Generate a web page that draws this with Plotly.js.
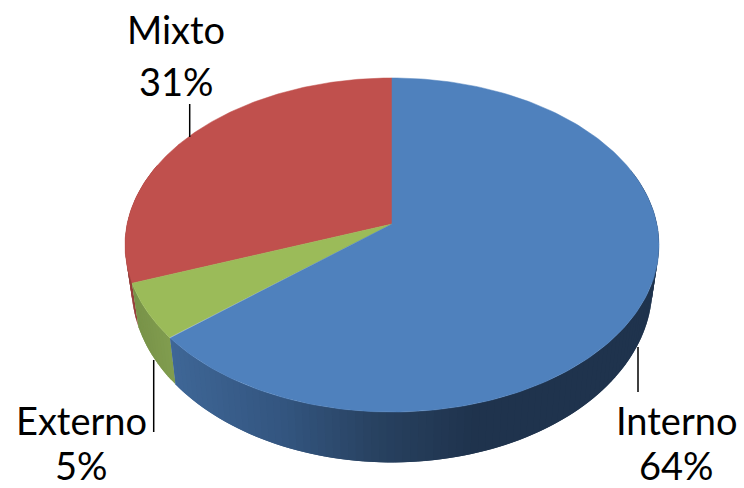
<!DOCTYPE html>
<html>
<head>
<meta charset="utf-8">
<script src="https://cdn.plot.ly/plotly-3.0.1.min.js"></script>
<style>html,body{margin:0;padding:0;background:#fff}#c{width:744px;height:488px}</style>
</head>
<body>
<div id="c"></div>
<script>
const categories = ['Interno', 'Externo', 'Mixto'];
const values = [64, 5.4, 30.6];
const topColors = ['#4F81BD', '#9BBB59', '#C0504D'];
const wallStops = [
  [[170, [62, 102, 150]], [280, [51, 85, 127]], [370, [40, 66, 97]], [470, [31, 51, 77]], [700, [31, 51, 77]]],
  [[130, [120, 146, 72]], [175, [130, 158, 80]]],
  [[120, [150, 62, 58]], [140, [150, 62, 58]]]
];

const k = 0.1257;
const top_ = {cx: 392, cy: 224, W: 264.9, H: 164.4};
const bot_ = {cx: 392, cy: 265, W: 258.3, H: 172.6};
function proj(d, deg) {
  const a = deg * Math.PI / 180, u = Math.sin(a), v = Math.cos(a), w = 1 + k * v;
  return [d.cx + d.W * u / w, d.cy - d.H * v / w];
}
function lerpColor(stops, x) {
  if (x <= stops[0][0]) return 'rgb(' + stops[0][1].join(',') + ')';
  for (let i = 1; i < stops.length; i++) {
    if (x <= stops[i][0]) {
      const t = (x - stops[i - 1][0]) / (stops[i][0] - stops[i - 1][0]);
      const c = stops[i][1].map((n, j) => Math.round(stops[i - 1][1][j] + (n - stops[i - 1][1][j]) * t));
      return 'rgb(' + c.join(',') + ')';
    }
  }
  return 'rgb(' + stops[stops.length - 1][1].join(',') + ')';
}
function poly(xs, ys, color, lw) {
  return {type: 'scatter', mode: 'lines', x: xs, y: ys, fill: 'toself', fillcolor: color,
    line: {color: color, width: lw}, hoverinfo: 'skip', showlegend: false};
}

const total = values.reduce((a, b) => a + b, 0);
const spans = [];
let acc = 0;
values.forEach(v => { spans.push([acc / total * 360, (acc + v) / total * 360]); acc += v; });

const walls = [], tops = [];
[2, 1, 0].forEach(i => {
  const [a0, a1] = spans[i];
  const from = Math.max(a0, i === 0 ? 70 : a0), to = Math.min(a1, 292);
  for (let a = from; a < to; a += 1.5) {
    const b = Math.min(a + 3, to);
    const p = proj(top_, a), q = proj(top_, b), r = proj(bot_, b), s = proj(bot_, a);
    const col = lerpColor(wallStops[i], (p[0] + q[0]) / 2);
    walls.push(poly([p[0], q[0], r[0], s[0], p[0]], [p[1], q[1], r[1], s[1], p[1]], col, 0));
  }
});
[2, 1, 0].forEach(i => {
  const [a0, a1] = spans[i];
  const xs = [top_.cx], ys = [top_.cy];
  for (let a = a0; a <= a1 + 1e-6; a += (a1 - a0) / 200) {
    const p = proj(top_, a); xs.push(p[0]); ys.push(p[1]);
  }
  xs.push(top_.cx); ys.push(top_.cy);
  tops.push(poly(xs, ys, topColors[i], 0.5));
});

const font = {family: 'Lato, "Open Sans", sans-serif', size: 38, color: '#000'};
const labelPos = [[676, 420, 465], [81, 420, 465], [176, 29, 81]];
const annotations = [];
categories.forEach((c, i) => {
  const pct = Math.round(values[i] / total * 100) + '%';
  [[c, labelPos[i][1]], [pct, labelPos[i][2]]].forEach(([t, y]) => {
    annotations.push({x: labelPos[i][0], y: y, xref: 'x', yref: 'y', text: t, showarrow: false,
      xanchor: 'center', yanchor: 'middle', borderpad: 0, font: font});
  });
});
const line = (x, y0, y1) => ({type: 'line', xref: 'x', yref: 'y', x0: x, x1: x, y0: y0, y1: y1,
  line: {color: '#000', width: 1.5}, layer: 'above'});

Plotly.newPlot('c', walls.concat(tops), {
  width: 744, height: 488, margin: {l: 0, r: 0, t: 0, b: 0},
  paper_bgcolor: '#fff', plot_bgcolor: '#fff', showlegend: false,
  xaxis: {range: [0, 744], visible: false, fixedrange: true},
  yaxis: {range: [488, 0], visible: false, fixedrange: true},
  annotations: annotations,
  shapes: [line(189.7, 104, 137), line(153.7, 360, 432), line(638, 347, 392)]
}, {displayModeBar: false, staticPlot: true});
</script>
</body>
</html>
